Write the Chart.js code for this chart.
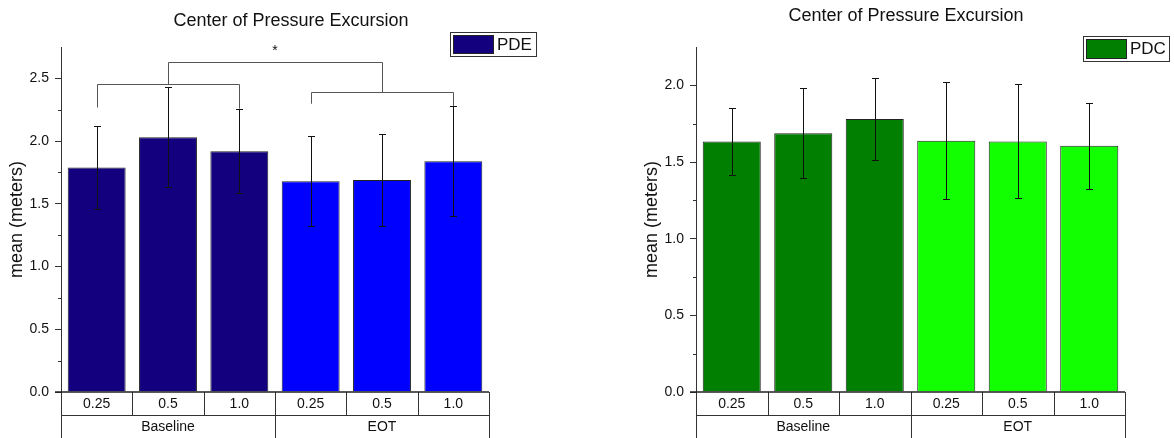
<!DOCTYPE html>
<html>
<head>
<meta charset="utf-8">
<script src="https://cdn.jsdelivr.net/npm/chart.js@4.4.1/dist/chart.umd.min.js"></script>
<style>
  body { margin: 0; background: #fff; width: 1174px; height: 438px; overflow: hidden; position: relative; }
  canvas { position: absolute; top: 0; }
  #pdeChart { left: 0; }
  #pdcChart { left: 587px; }
</style>
</head>
<body>
<canvas id="pdeChart" width="587" height="438"></canvas>
<canvas id="pdcChart" width="587" height="438"></canvas>
<script>
const FONT = "'Liberation Sans', Arial, sans-serif";

// Categories
const groups = ['Baseline', 'EOT'];
const speeds = ['0.25', '0.5', '1.0'];

// PDE panel
const pdeMeans = [1.79, 2.03, 1.92, 1.68, 1.69, 1.84];
const pdeErrors = [0.333, 0.398, 0.336, 0.357, 0.366, 0.44];
const pdeTicks = [0, 0.5, 1.0, 1.5, 2.0, 2.5];
const pdeColors = ['#12007f', '#0000ff'];

// PDC panel
const pdcMeans = [1.634, 1.687, 1.781, 1.638, 1.634, 1.606];
const pdcErrors = [0.216, 0.293, 0.265, 0.381, 0.372, 0.281];
const pdcTicks = [0, 0.5, 1.0, 1.5, 2.0];
const pdcColors = ['#007f00', '#11ff00'];

// significance brackets (PDE): [fromBar, toBar, level, leftLegEnd, rightLegEnd]
const pdeBrackets = [
    [0, 2, 2.452, 2.268, 2.258],
    [3, 5, 2.388, 2.298, 2.279],
    [1, 4, 2.630, 2.452, 2.388]
];
const pdeStarLevel = 2.74;

const labels = groups.flatMap(g => speeds.map(s => g + ' ' + s));

// Draws error bars, brackets, category table, title and legend
const panelPlugin = {
    id: 'panel',
    afterDatasetsDraw(chart, args, o) {
        const ctx = chart.ctx;
        const x = chart.scales.x, y = chart.scales.y;
        const meta = chart.getDatasetMeta(0);
        const vals = chart.data.datasets[0].data;
        const area = chart.chartArea;
        ctx.save();

        // minor ticks
        ctx.strokeStyle = '#333';
        ctx.lineWidth = 1;
        ctx.beginPath();
        for (let v = 0.25; v < y.max; v += 0.5) {
            const py = Math.round(y.getPixelForValue(v)) + 0.5;
            ctx.moveTo(area.left - 3, py);
            ctx.lineTo(area.left, py);
        }
        ctx.stroke();

        // error bars
        ctx.strokeStyle = '#111';
        ctx.beginPath();
        meta.data.forEach((bar, i) => {
            const cx = Math.round(bar.x) + 0.5;
            const hi = Math.round(y.getPixelForValue(vals[i] + o.errors[i])) + 0.5;
            const lo = Math.round(y.getPixelForValue(vals[i] - o.errors[i])) + 0.5;
            ctx.moveTo(cx, hi); ctx.lineTo(cx, lo);
            ctx.moveTo(cx - 3.5, hi); ctx.lineTo(cx + 3.5, hi);
            ctx.moveTo(cx - 3.5, lo); ctx.lineTo(cx + 3.5, lo);
        });
        ctx.stroke();

        // brackets
        if (o.brackets) {
            ctx.strokeStyle = '#555';
            ctx.beginPath();
            o.brackets.forEach(([a, b, lvl, l1, l2]) => {
                const xa = Math.round(meta.data[a].x) + 0.5;
                const xb = Math.round(meta.data[b].x) + 0.5;
                const py = Math.round(y.getPixelForValue(lvl)) + 0.5;
                ctx.moveTo(xa, y.getPixelForValue(l1));
                ctx.lineTo(xa, py);
                ctx.lineTo(xb, py);
                ctx.lineTo(xb, y.getPixelForValue(l2));
            });
            ctx.stroke();
            const last = o.brackets[o.brackets.length - 1];
            ctx.fillStyle = '#111';
            ctx.font = '14px ' + FONT;
            ctx.textAlign = 'center';
            ctx.textBaseline = 'middle';
            ctx.fillText('*', (meta.data[last[0]].x + meta.data[last[1]].x) / 2, y.getPixelForValue(o.star) + 3);
        }

        // category table under the axis
        const cw = (area.right - area.left) / labels.length;
        const top = area.bottom, mid = area.bottom + 23, bot = chart.height;
        ctx.strokeStyle = '#333';
        ctx.lineWidth = 1;
        ctx.beginPath();
        ctx.moveTo(area.left, Math.round(mid) + 0.5);
        ctx.lineTo(area.right, Math.round(mid) + 0.5);
        labels.forEach((l, i) => {
            const ex = Math.round(x.getPixelForValue(i) - cw / 2) + 0.5;
            ctx.moveTo(ex, top);
            ctx.lineTo(ex, i % speeds.length === 0 ? bot : mid);
        });
        ctx.moveTo(Math.round(area.right) + 0.5, top);
        ctx.lineTo(Math.round(area.right) + 0.5, bot);
        ctx.stroke();

        // x axis line
        ctx.strokeStyle = '#222';
        ctx.lineWidth = 1.5;
        ctx.beginPath();
        ctx.moveTo(area.left - 6, area.bottom);
        ctx.lineTo(area.right, area.bottom);
        ctx.stroke();

        ctx.fillStyle = '#111';
        ctx.font = '14px ' + FONT;
        ctx.textAlign = 'center';
        ctx.textBaseline = 'middle';
        labels.forEach((l, i) => {
            ctx.fillText(speeds[i % speeds.length], x.getPixelForValue(i), (top + mid) / 2 + 1);
        });
        groups.forEach((g, gi) => {
            const first = gi * speeds.length;
            const cx = (x.getPixelForValue(first) + x.getPixelForValue(first + speeds.length - 1)) / 2;
            ctx.fillText(g, cx, (mid + bot) / 2 + 1);
        });

        // title
        ctx.font = '18px ' + FONT;
        ctx.fillText(o.title, o.titleX, o.titleY);

        // legend
        const lg = o.legend;
        ctx.lineWidth = 1;
        ctx.strokeStyle = '#333';
        ctx.fillStyle = '#fff';
        ctx.fillRect(lg.x, lg.y, lg.w, lg.h);
        ctx.strokeRect(lg.x + 0.5, lg.y + 0.5, lg.w, lg.h);
        ctx.fillStyle = o.colors[0];
        ctx.fillRect(lg.x + 3, lg.y + 3, 40, lg.h - 6);
        ctx.strokeStyle = '#222';
        ctx.strokeRect(lg.x + 3.5, lg.y + 3.5, 40, lg.h - 6);
        ctx.fillStyle = '#111';
        ctx.font = '17px ' + FONT;
        ctx.textAlign = 'left';
        ctx.fillText(o.name, lg.x + 47, lg.y + lg.h / 2 + 1);

        ctx.restore();
    }
};

function makeChart(id, name, means, errors, colors, yMax, yTicks, layout, extra) {
    const ctx = document.getElementById(id).getContext('2d');
    return new Chart(ctx, {
        type: 'bar',
        data: {
            labels: labels,
            datasets: [{
                label: name,
                data: means,
                backgroundColor: labels.map((l, i) => colors[Math.floor(i / speeds.length)]),
                borderColor: '#222',
                borderWidth: 1,
                barPercentage: 0.812,
                categoryPercentage: 1.0
            }]
        },
        options: {
            responsive: false,
            animation: false,
            devicePixelRatio: 1,
            layout: { padding: layout.padding },
            scales: {
                x: { display: false },
                y: {
                    min: 0,
                    max: yMax,
                    afterBuildTicks: s => { s.ticks = yTicks.map(v => ({ value: v })); },
                    afterFit: s => { s.width = 61; },
                    grid: { drawOnChartArea: false, drawTicks: true, tickLength: 6, color: '#333' },
                    border: { display: true, color: '#333', width: 1 },
                    ticks: {
                        padding: 6,
                        color: '#111',
                        font: { family: FONT, size: 14 },
                        callback: v => Number(v).toFixed(1)
                    },
                    title: {
                        display: true,
                        text: 'mean (meters)',
                        color: '#111',
                        font: { family: FONT, size: 18 },
                        padding: { top: 6, bottom: 0 }
                    }
                }
            },
            plugins: {
                legend: { display: false },
                tooltip: { enabled: false },
                panel: Object.assign({
                    name: name,
                    errors: errors,
                    colors: colors,
                    title: 'Center of Pressure Excursion'
                }, extra)
            }
        },
        plugins: [panelPlugin]
    });
}

makeChart('pdeChart', 'PDE', pdeMeans, pdeErrors, pdeColors, 2.75, pdeTicks,
    { padding: { left: 0, right: 98, top: 47, bottom: 46 } },
    { brackets: pdeBrackets, star: pdeStarLevel, titleX: 291, titleY: 21,
      legend: { x: 450, y: 32, w: 86, h: 24 } });

makeChart('pdcChart', 'PDC', pdcMeans, pdcErrors, pdcColors, 2.25, pdcTicks,
    { padding: { left: 48, right: 49, top: 47, bottom: 46 } },
    { titleX: 319, titleY: 16,
      legend: { x: 496, y: 36, w: 86, h: 25 } });
</script>
</body>
</html>
